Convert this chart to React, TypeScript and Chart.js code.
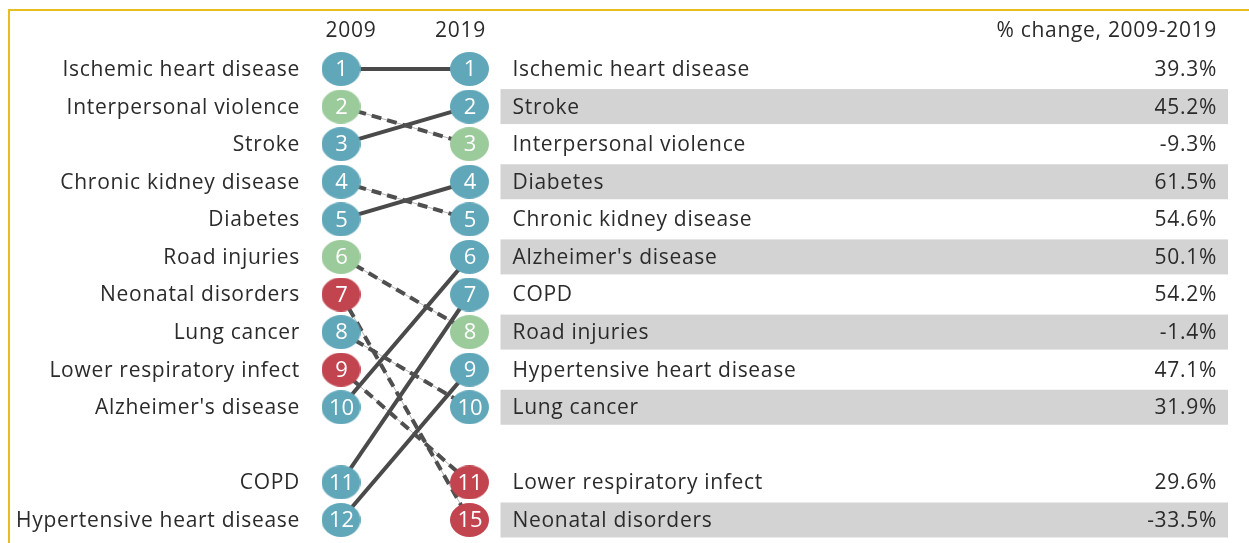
import React, { useEffect, useRef } from "react";
import { Chart, registerables } from "chart.js";
Chart.register(...registerables);

// ---- data ----
const causes = [
  "Ischemic heart disease",
  "Interpersonal violence",
  "Stroke",
  "Chronic kidney disease",
  "Diabetes",
  "Road injuries",
  "Neonatal disorders",
  "Lung cancer",
  "Lower respiratory infect",
  "Alzheimer's disease",
  "COPD",
  "Hypertensive heart disease",
];
const rank2009 = [1, 2, 3, 4, 5, 6, 7, 8, 9, 10, 11, 12];
const rank2019 = [1, 3, 2, 5, 4, 8, 15, 10, 11, 6, 7, 9];
const pctChange = [39.3, -9.3, 45.2, 54.6, 61.5, -1.4, -33.5, 31.9, 29.6, 50.1, 54.2, 47.1];
const groups = ["ncd", "inj", "ncd", "ncd", "ncd", "inj", "cmnn", "ncd", "cmnn", "ncd", "ncd", "ncd"];
const years = ["2009", "2019"];
const pctHeader = "% change, 2009-2019";
const topN = 10;

// ---- styles ----
const groupColors: Record<string, string> = { ncd: "#61a7ba", inj: "#9ccb9b", cmnn: "#c1444f" };
const FONT = "'Open Sans', sans-serif";
const TEXT = "#2b2b2b";
const W = 1239;
const H = 532;
const X0_PX = 331; // pixel of 2009 column in canvas
const X1_PX = 459.5; // pixel of 2019 column
const Y1_PX = 58; // pixel of slot 1
const Y13_PX = 509; // pixel of slot 13

function toSlots(ranks: number[]) {
  const extra = ranks.filter((r) => r > topN).sort((a, b) => a - b);
  return ranks.map((r) => (r <= topN ? r : topN + 2 + extra.indexOf(r)));
}
const slot09 = toSlots(rank2009);
const slot19 = toSlots(rank2019);
const order19 = causes.map((_, i) => i).sort((a, b) => rank2019[a] - rank2019[b]);

function ellipse(color: string) {
  const c = document.createElement("canvas");
  c.width = 39;
  c.height = 34;
  const g = c.getContext("2d")!;
  g.fillStyle = color;
  g.beginPath();
  g.ellipse(19.5, 17, 19.5, 17, 0, 0, Math.PI * 2);
  g.fill();
  return c;
}

export default function App() {
  const ref = useRef<HTMLCanvasElement>(null);
  useEffect(() => {
    const xppu = X1_PX - X0_PX;
    const xmin = -X0_PX / xppu;
    const xmax = xmin + W / xppu;
    const yppu = (Y13_PX - Y1_PX) / 12;
    const ymin = 1 - Y1_PX / yppu;
    const ymax = ymin + H / yppu;

    const imgs: Record<string, HTMLCanvasElement> = {};
    Object.keys(groupColors).forEach((k) => (imgs[k] = ellipse(groupColors[k])));

    const lineSets: any[] = [];
    causes.forEach((_, i) => {
      const data = [
        { x: 0, y: slot09[i] },
        { x: 1, y: slot19[i] },
      ];
      const worse = rank2019[i] > rank2009[i];
      if (worse) {
        lineSets.push({
          data,
          showLine: true,
          pointRadius: 0,
          borderColor: "#b5b5b5",
          borderWidth: 1,
          order: 3,
          clip: false,
        });
        lineSets.push({
          data,
          showLine: true,
          pointRadius: 0,
          borderColor: "#4f4f4f",
          borderWidth: 4,
          borderDash: [10, 6],
          order: 2,
          clip: false,
        });
      } else {
        lineSets.push({
          data,
          showLine: true,
          pointRadius: 0,
          borderColor: "#4a4a4a",
          borderWidth: 4,
          order: 2,
          clip: false,
        });
      }
    });

    const nodeSets = [0, 1].map((col) => ({
      data: causes.map((_, i) => ({ x: col, y: col === 0 ? slot09[i] : slot19[i] })),
      pointStyle: causes.map((_, i) => imgs[groups[i]]),
      pointRadius: 18,
      showLine: false,
      order: 0,
      clip: false,
    }));

    const setFont = (ctx: any, size: number, spacing: string) => {
      ctx.font = `${size}px ${FONT}`;
      try {
        ctx.letterSpacing = spacing;
      } catch (e) {}
    };

    const plugin = {
      id: "slopeTable",
      beforeDatasetsDraw(chart: any) {
        const { ctx } = chart;
        const x = chart.scales.x;
        const y = chart.scales.y;
        const left = x.getPixelForValue(1) + 31;
        const right = W - 21;
        ctx.save();
        ctx.fillStyle = "#d3d3d3";
        order19.forEach((idx, j) => {
          if (j % 2 === 1) {
            const cy = y.getPixelForValue(slot19[idx]);
            ctx.fillRect(left, cy - 17.5, right - left, 35);
          }
        });
        ctx.restore();
      },
      afterDatasetsDraw(chart: any) {
        const { ctx } = chart;
        ctx.save();
        ctx.fillStyle = "#ffffff";
        setFont(ctx, 22, "0px");
        ctx.textAlign = "center";
        ctx.textBaseline = "middle";
        const n = chart.data.datasets.length;
        [n - 2, n - 1].forEach((di, col) => {
          const meta = chart.getDatasetMeta(di);
          meta.data.forEach((el: any, i: number) => {
            const r = col === 0 ? rank2009[i] : rank2019[i];
            ctx.fillText(String(r), el.x + 0.5, el.y + 1);
          });
        });
        ctx.restore();
      },
      afterDraw(chart: any) {
        const { ctx } = chart;
        const x = chart.scales.x;
        const y = chart.scales.y;
        const x0 = x.getPixelForValue(0);
        const x1 = x.getPixelForValue(1);
        ctx.save();
        ctx.fillStyle = TEXT;
        setFont(ctx, 21, "0.7px");
        ctx.textBaseline = "middle";
        const headY = y.getPixelForValue(1) - 38;
        ctx.textAlign = "center";
        ctx.fillText(years[0], x0 + 10, headY);
        ctx.fillText(years[1], x1 - 9, headY);
        ctx.textAlign = "right";
        ctx.fillText(pctHeader, W - 32, headY);
        causes.forEach((name, i) => {
          ctx.textAlign = "right";
          ctx.fillText(name, x0 - 41, y.getPixelForValue(slot09[i]) + 1);
          const yy = y.getPixelForValue(slot19[i]) + 1;
          ctx.textAlign = "left";
          ctx.fillText(name, x1 + 43, yy);
          ctx.textAlign = "right";
          ctx.fillText(pctChange[i].toFixed(1) + "%", W - 32, yy);
        });
        ctx.restore();
      },
    };

    const chart = new Chart(ref.current!, {
      type: "scatter",
      data: { datasets: [...lineSets, ...nodeSets] as any },
      options: {
        responsive: false,
        animation: false,
        events: [],
        layout: { padding: 0, autoPadding: false },
        plugins: { legend: { display: false }, tooltip: { enabled: false } },
        scales: {
          x: { type: "linear", display: false, min: xmin, max: xmax, bounds: "data" },
          y: { type: "linear", display: false, reverse: true, min: ymin, max: ymax, bounds: "data" },
        },
      },
      plugins: [plugin],
    });
    return () => chart.destroy();
  }, []);

  return (
    <div
      style={{
        position: "absolute",
        left: 8,
        top: 9,
        width: 1241,
        height: 534,
        borderTop: "2px solid #e8be1f",
        borderLeft: "2px solid #e8be1f",
        boxSizing: "border-box",
        overflow: "hidden",
      }}
    >
      <canvas ref={ref} width={W} height={H} style={{ display: "block" }} />
    </div>
  );
}
